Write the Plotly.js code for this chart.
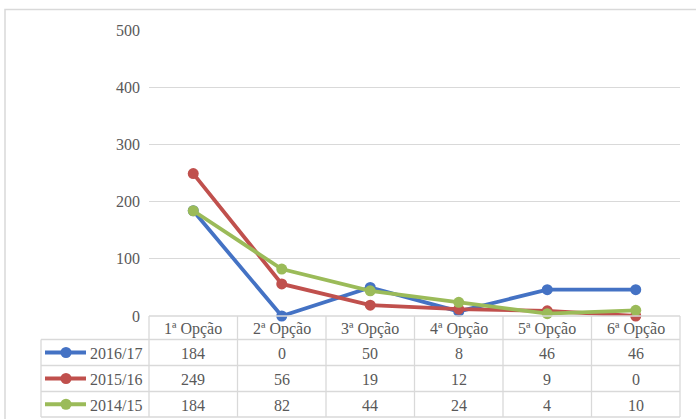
<!DOCTYPE html>
<html><head><meta charset="utf-8">
<script src="https://cdn.plot.ly/plotly-3.0.1.min.js"></script>
<style>html,body{margin:0;padding:0;background:#fff}</style>
</head><body><div id="chart" style="width:696px;height:419px"></div>
<script>
var categories = ['1ª Opção','2ª Opção','3ª Opção','4ª Opção','5ª Opção','6ª Opção'];
var seriesNames = ['2016/17','2015/16','2014/15'];
var s2016 = [184, 0, 50, 8, 46, 46];
var s2015 = [249, 56, 19, 12, 9, 0];
var s2014 = [184, 82, 44, 24, 4, 10];
var yTicks = [0, 100, 200, 300, 400, 500];
var colors = ['#4472C4', '#C0504D', '#9BBB59'];
var seriesData = [s2016, s2015, s2014];

var W = 696, H = 419, L = 149, R = 680, T = 30, B = 316;
function px(x){ return (x - L) / (R - L); }
function py(y){ return (B - y) / (B - T); }
function mkFont(){ return {family: 'Liberation Serif', size: 16, color: '#595959'}; }
var grid = '#D9D9D9';

var traces = seriesData.map(function(d, i){
  return {x: categories.map(function(c, k){ return k; }), y: d, name: seriesNames[i], type: 'scatter', mode: 'lines+markers',
    line: {color: colors[i], width: 3.8}, marker: {color: colors[i], size: 11}, cliponaxis: false, hoverinfo: 'skip'};
});

var shapes = [], annotations = [];
shapes.push({type: 'rect', xref: 'paper', yref: 'paper', x0: px(5), x1: px(720), y0: py(9.5), y1: py(440), line: {color: grid, width: 1.5}, fillcolor: 'rgba(0,0,0,0)', layer: 'below'});
var colEdges = [];
var cw = (R - L) / categories.length;
for (var k = 0; k <= categories.length; k++) colEdges.push(L + k * cw);
var rowEdges = [316, 339.5, 365.5, 391.5, 417];
colEdges.forEach(function(x){
  shapes.push({type: 'line', xref: 'paper', yref: 'paper', x0: px(x), x1: px(x), y0: py(316), y1: py(417), line: {color: grid, width: 1.3}});
});
shapes.push({type: 'line', xref: 'paper', yref: 'paper', x0: px(41), x1: px(41), y0: py(339.5), y1: py(417), line: {color: grid, width: 1.3}});
rowEdges.forEach(function(y, i){
  shapes.push({type: 'line', xref: 'paper', yref: 'paper', x0: px(i === 0 ? L : 41), x1: px(R), y0: py(y), y1: py(y), line: {color: grid, width: 1.3}});
});
categories.forEach(function(c, k){
  annotations.push({xref: 'x', yref: 'paper', x: k, y: py((rowEdges[0] + rowEdges[1]) / 2 + 1), text: c, showarrow: false, font: mkFont(), xanchor: 'center', yanchor: 'middle'});
});
seriesData.forEach(function(d, i){
  var yc = (rowEdges[i + 1] + rowEdges[i + 2]) / 2 + 1;
  d.forEach(function(v, k){
    annotations.push({xref: 'x', yref: 'paper', x: k, y: py(yc), text: String(v), showarrow: false, font: mkFont(), xanchor: 'center', yanchor: 'middle'});
  });
  annotations.push({xref: 'paper', yref: 'paper', x: px(116), y: py(yc), text: seriesNames[i], showarrow: false, font: mkFont(), xanchor: 'center', yanchor: 'middle'});
  shapes.push({type: 'line', xref: 'paper', yref: 'paper', x0: px(45), x1: px(86), y0: py(yc - 1), y1: py(yc - 1), line: {color: colors[i], width: 3.8}});
  shapes.push({type: 'circle', xref: 'paper', yref: 'paper', x0: px(60.5), x1: px(71.5), y0: py(yc - 6.5), y1: py(yc + 4.5), line: {color: colors[i], width: 0}, fillcolor: colors[i]});
});

var layout = {
  width: W, height: H,
  margin: {l: L, r: W - R, t: T, b: H - B, pad: 0},
  paper_bgcolor: '#fff', plot_bgcolor: '#fff',
  showlegend: false,
  font: mkFont(),
  xaxis: {range: [-0.5, 5.5], showticklabels: false, showgrid: false, zeroline: false, showline: false, fixedrange: true},
  yaxis: {range: [0, 500], tickvals: yTicks, ticktext: yTicks.map(String), showgrid: true, gridcolor: grid, gridwidth: 1.3, zeroline: false, showline: false,
    ticks: '', ticklabelstandoff: 8, tickfont: mkFont(), fixedrange: true},
  shapes: shapes,
  annotations: annotations
};
Plotly.newPlot('chart', traces, layout, {staticPlot: true, displayModeBar: false});
</script></body></html>
